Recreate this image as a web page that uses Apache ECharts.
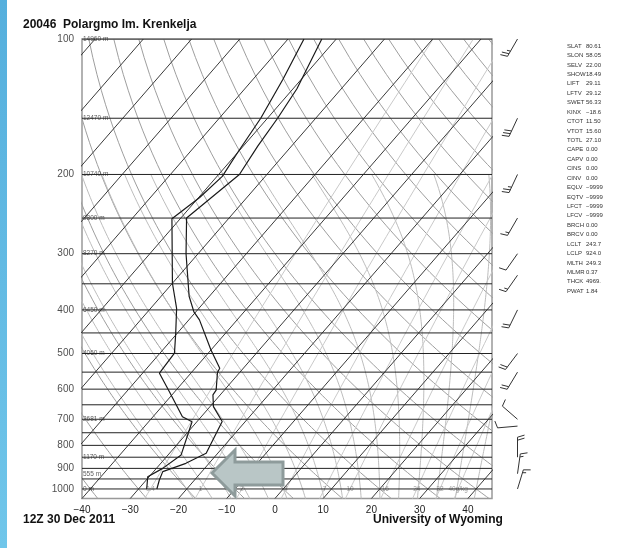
<!DOCTYPE html>
<html lang="en">
<head>
<meta charset="UTF-8">
<title>20046 Polargmo Im. Krenkelja</title>
<script src="https://cdn.jsdelivr.net/npm/echarts@6/dist/echarts.min.js"></script>
<style>
    html, body { margin: 0; padding: 0; background: #fff; }
    #main { width: 626px; height: 548px; }
</style>
</head>
<body>
<div id="main"></div>
<script type="text/javascript">
    // sounding, temperature (hPa, degC)
    var tempP = [1000, 955, 915, 877, 833, 708, 656, 618, 603, 551, 539, 491, 421, 404, 373, 300, 250, 200, 173, 150, 129, 100];
    var tempC = [-26.2, -27.3, -28.1, -24.8, -22.4, -24.8, -29.3, -31.5, -31.7, -34.6, -34.9, -40.0, -47.8, -50.4, -54.2, -62.5, -68.8, -65.7, -67.0, -67.9, -69.2, -73.0];
    // sounding, dewpoint
    var dewP = [1000, 939, 900, 840, 709, 691, 608, 553, 499, 451, 397, 349, 251, 225, 202, 179, 150, 123, 100];
    var dewC = [-28.3, -30.3, -28.7, -27.3, -31.0, -33.9, -41.1, -46.5, -47.0, -50.3, -54.6, -60.0, -71.7, -69.8, -68.9, -70.0, -71.4, -73.8, -76.7];

    // winds (hPa, deg, knots)
    var windP = [100, 150, 200, 250, 300, 335, 400, 500, 550, 700, 725, 850, 925, 1000];
    var windDir = [210, 205, 205, 210, 215, 215, 206, 217, 211, 311, 265, 360, 8, 17];
    var windSpd = [25, 30, 25, 15, 10, 15, 20, 20, 20, 10, 10, 20, 15, 15];

    // axis ticks
    var pressTicks = [100, 200, 300, 400, 500, 600, 700, 800, 900, 1000];
    var isobars = [100, 150, 200, 250, 300, 350, 400, 450, 500, 550, 600, 650, 700, 750, 800, 850, 900, 950, 1000];
    var heightP = [100, 150, 200, 250, 300, 400, 500, 700, 850, 925, 1000];
    var heightM = ['14960', '12470', '10740', '9300', '8270', '6450', '4060', '2681', '1170', '555', '0'];

    // diagram background lines
    var isotherms = [-120, -110, -100, -90, -80, -70, -60, -50, -40, -30, -20, -10, 0, 10, 20, 30, 40];
    var dryTheta = [-40, -30, -20, -10, 0, 10, 20, 30, 40, 50, 60, 70, 80, 90, 100, 110, 120, 130, 140, 150, 160, 170, 180];
    var moistT = [-20, -16, -12, -8, -4, 0, 4, 8, 12, 16, 20, 24, 28, 32, 36, 40];
    var mixW = [0.4, 1, 2, 4, 7, 10, 16, 24, 32, 40];
    var mixLabels = ['0.4', '1', '2', '4', '7', '10', '16', '24', '32', '40g/kg'];

    // station indices
    var statNames = ['SLAT', 'SLON', 'SELV', 'SHOW', 'LIFT', 'LFTV', 'SWET', 'KINX', 'CTOT', 'VTOT', 'TOTL', 'CAPE', 'CAPV', 'CINS', 'CINV', 'EQLV', 'EQTV', 'LFCT', 'LFCV', 'BRCH', 'BRCV', 'LCLT', 'LCLP', 'MLTH', 'MLMR', 'THCK', 'PWAT'];
    var statValues = ['80.61', '58.05', '22.00', '18.49', '29.11', '29.12', '56.33', '\u221218.6', '11.50', '15.60', '27.10', '0.00', '0.00', '0.00', '0.00', '\u22129999', '\u22129999', '\u22129999', '\u22129999', '0.00', '0.00', '243.7', '924.0', '249.3', '0.37', '4969.', '1.84'];

    var SKEW = 81;  // degC added per decade of pressure
    var PBOT = 1050, PTOP = 100, XMIN = -40, XMAX = 45, MOIST_TOP = 200;

    function skewX(t, p) { return t + SKEW * Math.log10(PBOT / p); }
    function esat(t) { return 6.112 * Math.exp(17.67 * t / (t + 243.5)); }
    function rsat(t, p) { var e = esat(t); return 0.622 * e / (p - e); }
    function moistLapse(t, p) {
        var T = t + 273.15, rs = rsat(t, p), Lv = 2.501e6, Rd = 287.04;
        return (Rd * T + Lv * rs) / (1005.7 + Lv * Lv * rs * 0.622 / (Rd * T * T)) / p;
    }
    function dewFromMix(w, p) {
        var e = w * p / (622 + w), l = Math.log(e / 6.112);
        return 243.5 * l / (17.67 - l);
    }

    var series = [];
    function addLine(data, color, width, z) {
        series.push({
            type: 'line', data: data, symbol: 'none', silent: true, animation: false,
            clip: true, z: z, lineStyle: { color: color, width: width }
        });
    }

    // isobars
    isobars.forEach(function (p) { addLine([[XMIN, p], [XMAX, p]], '#222', 1, 3); });
    // isotherms
    isotherms.forEach(function (t) {
        addLine([[skewX(t, PBOT), PBOT], [skewX(t, PTOP), PTOP]], '#3a3a3a', 1, 2);
    });
    // dry adiabats
    dryTheta.forEach(function (th) {
        var d = [];
        for (var p = PBOT; p >= PTOP; p -= 10) {
            var t = (th + 273.15) * Math.pow(p / 1000, 0.2857) - 273.15;
            d.push([skewX(t, p), p]);
        }
        addLine(d, '#9e9e9e', 1, 1);
    });
    // moist adiabats
    moistT.forEach(function (t0) {
        var down = [], up = [], t = t0, p = 1000, dp, k1;
        dp = 5;
        while (p < PBOT) {
            k1 = moistLapse(t, p);
            t += dp * moistLapse(t + 0.5 * dp * k1, p + 0.5 * dp);
            p += dp;
            down.unshift([skewX(t, p), p]);
        }
        t = t0; p = 1000; dp = -5;
        while (p >= MOIST_TOP) {
            up.push([skewX(t, p), p]);
            k1 = moistLapse(t, p);
            t += dp * moistLapse(t + 0.5 * dp * k1, p + 0.5 * dp);
            p += dp;
        }
        addLine(down.concat(up), '#bdbdbd', 1, 1);
    });
    // mixing ratio lines
    mixW.forEach(function (w) {
        var d = [];
        for (var p = PBOT; p >= PTOP; p -= 25) d.push([skewX(dewFromMix(w, p), p), p]);
        addLine(d, '#c9c9c9', 1, 1);
    });

    // temperature and dewpoint traces
    addLine(tempP.map(function (p, i) { return [skewX(tempC[i], p), p]; }), '#1a1a1a', 1.2, 6);
    addLine(dewP.map(function (p, i) { return [skewX(dewC[i], p), p]; }), '#1a1a1a', 1.2, 6);

    function labelSeries(data, label, z) {
        series.push({
            type: 'scatter', data: data, symbolSize: 0, silent: true, animation: false, clip: false, z: z,
            label: Object.assign({ show: true, formatter: function (o) { return o.value[2]; } }, label)
        });
    }
    // pressure tick labels
    labelSeries(pressTicks.map(function (p) { return [XMIN, p, String(p)]; }),
        { position: 'left', distance: 8, fontSize: 10, color: '#222', fontFamily: 'Liberation Sans' }, 7);
    // heights on isobars
    labelSeries(heightP.map(function (p, i) { return [XMIN, p, heightM[i] + ' m']; }),
        { position: 'right', distance: 1, fontSize: 6.5, color: '#333', fontFamily: 'Liberation Sans' }, 2);
    // mixing ratio labels
    labelSeries(mixW.map(function (w, i) { return [skewX(dewFromMix(w, 1000), 1000), 1000, mixLabels[i]]; }),
        { position: 'inside', fontSize: 6.5, color: '#888', fontFamily: 'Liberation Sans' }, 2);

    // wind barbs
    function renderBarb(params, api) {
        var base = api.coord([api.value(0), api.value(1)]);
        var a = api.value(2) * Math.PI / 180, spd = Math.round(api.value(3) / 5) * 5;
        var ux = Math.sin(a), uy = -Math.cos(a), nx = -uy, ny = ux, len = 20;
        var tip = [base[0] + ux * len, base[1] + uy * len];
        var style = { stroke: '#333', lineWidth: 1, fill: null };
        var kids = [{ type: 'line', shape: { x1: base[0], y1: base[1], x2: tip[0], y2: tip[1] }, style: style }];
        var n10 = Math.floor(spd / 10), n5 = (spd % 10) >= 5 ? 1 : 0, pos = 0;
        if (n10 === 0 && n5) pos = 3;
        for (var i = 0; i < n10 + n5; i++) {
            var fl = i < n10 ? 7 : 3.5;
            var px = tip[0] - ux * pos, py = tip[1] - uy * pos;
            kids.push({ type: 'line', shape: { x1: px, y1: py, x2: px + nx * fl + ux * fl * 0.3, y2: py + ny * fl + uy * fl * 0.3 }, style: style });
            pos += 3;
        }
        return { type: 'group', children: kids };
    }
    series.push({
        type: 'custom', xAxisIndex: 1, yAxisIndex: 1, silent: true, animation: false, clip: false,
        renderItem: renderBarb,
        data: windP.map(function (p, i) { return [0.5, p, windDir[i], windSpd[i]]; })
    });

    var graphics = [
        {
            type: 'rect', x: 0, y: 0, shape: { width: 7, height: 548 },
            style: { fill: new echarts.graphic.LinearGradient(0, 0, 0, 1, [{ offset: 0, color: '#55afdd' }, { offset: 1, color: '#70c6ea' }]) }
        },
        {
            type: 'polygon', z: 100,
            shape: { points: [[212, 473], [235, 450], [235, 462], [283, 462], [283, 485], [235, 485], [235, 496]] },
            style: { fill: '#b9c6c6', stroke: '#8e9b9b', lineWidth: 3 }
        }
    ];
    statNames.forEach(function (n, i) {
        var y = 46 + i * 9.43;
        graphics.push({ type: 'text', x: 567, y: y, style: { text: n, fontSize: 6, fill: '#333', verticalAlign: 'middle', fontFamily: 'Liberation Sans' } });
        graphics.push({ type: 'text', x: 586, y: y, style: { text: statValues[i], fontSize: 6, fill: '#333', verticalAlign: 'middle', fontFamily: 'Liberation Sans' } });
    });

    var titleStyle = { fontSize: 12, fontWeight: 'bold', color: '#111', fontFamily: 'Liberation Sans' };
    var myChart = echarts.init(document.getElementById('main'));
    var option = {
        animation: false,
        backgroundColor: '#fff',
        title: [
            { text: '20046  Polargmo Im. Krenkelja', left: 23, top: 19, padding: 0, textStyle: titleStyle },
            { text: '12Z 30 Dec 2011', left: 23, top: 514, padding: 0, textStyle: titleStyle },
            { text: 'University of Wyoming', left: 373, top: 514, padding: 0, textStyle: titleStyle }
        ],
        grid: [
            { left: 82, top: 39, width: 410, height: 459.5, show: true, borderColor: '#999', borderWidth: 1.5, backgroundColor: 'transparent' },
            { left: 505, top: 39, width: 25, height: 459.5 }
        ],
        xAxis: [
            {
                type: 'value', min: XMIN, max: XMAX, interval: 10,
                axisLine: { show: false }, axisTick: { show: false }, splitLine: { show: false },
                axisLabel: {
                    margin: 7, fontSize: 10, color: '#222', fontFamily: 'Liberation Sans',
                    formatter: function (v) { return v % 10 === 0 ? (v < 0 ? '\u2212' + (-v) : String(v)) : ''; }
                }
            },
            { type: 'value', gridIndex: 1, min: 0, max: 1, show: false }
        ],
        yAxis: [
            { type: 'log', logBase: 10, min: PTOP, max: PBOT, inverse: true, show: false },
            { type: 'log', logBase: 10, gridIndex: 1, min: PTOP, max: PBOT, inverse: true, show: false }
        ],
        graphic: graphics,
        series: series
    };
    myChart.setOption(option);
</script>
</body>
</html>
